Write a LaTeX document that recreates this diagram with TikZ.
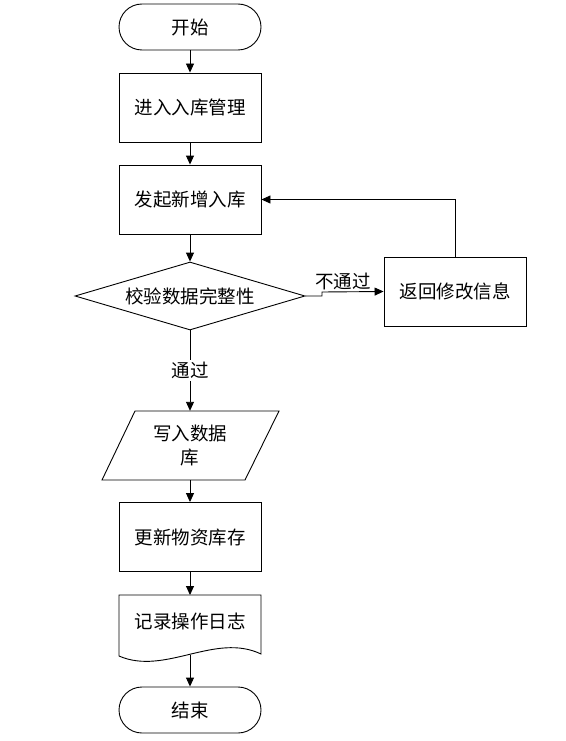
\documentclass[tikz,border=0pt]{standalone}
\usepackage{fontspec}
\setmainfont{Noto Sans CJK SC}
\usetikzlibrary{shapes.geometric,arrows.meta}
\begin{document}
\begin{tikzpicture}[x=1pt,y=-1pt,
  every node/.style={font=\fontsize{18.5}{24}\selectfont},
  line/.style={line width=0.9pt},
  arr/.style={line, -{Triangle[length=9pt,width=8pt]}},
  term/.style={draw,line width=0.9pt,rectangle,rounded corners=23pt,minimum width=142pt,minimum height=46pt,inner sep=0pt},
  proc/.style={draw,line width=0.9pt,rectangle,minimum width=142pt,minimum height=69pt,inner sep=0pt},
  dec/.style={draw,line width=0.9pt,diamond,aspect=3.38,minimum width=230pt,minimum height=68pt,inner sep=0pt},
  txt/.style={inner sep=0pt,minimum width=144pt,minimum height=69pt,align=center}]
\useasboundingbox (0,0) rectangle (565,741);
\node[term] (start) at (190,27) {开始};
\node[proc] (p1) at (190,107.5) {进入入库管理};
\node[proc] (p2) at (190,199.5) {发起新增入库};
\node[dec] (d) at (190,296) {校验数据完整性};
\node[proc] (r) at (455,291.5) {返回修改信息};
% parallelogram
\draw[line] (135,411) -- (279,411) -- (245,480) -- (102,480) -- cycle;
\node[txt,text width=80pt] (w) at (190,445.5) {写入数据\\库};
\node[proc] (p3) at (190,537) {更新物资库存};
% document
\draw[line] (119,595) -- (261,595) -- (261,654) .. controls (215,632) and (165,676) .. (119,656) -- cycle;
\node[inner sep=0pt] (log) at (190,621) {记录操作日志};
\coordinate (logb) at (190,655);
\coordinate (logt) at (190,595);
\node[term] (end) at (190,710) {结束};
% connectors
\draw[arr] (start) -- (p1);
\draw[arr] (p1) -- (p2);
\draw[arr] (p2) -- (d);
\draw[arr] (d.south) -- node[fill=white,inner sep=2pt,pos=0.5] {通过} (w.north);
\draw[arr] (w.south) -- (p3);
\draw[arr] (p3.south) -- (logt);
\draw[arr] (logb) -- (end);
\coordinate (k1) at (322,296);
\coordinate (k2) at (322,292);
\draw[arr] (d.east) -- (k1) -- (k2) -- (r.west);
\node[inner sep=0pt] (lbl) at (343,281) {不通过};
\draw[arr] (r.north) |- (p2.east);
\end{tikzpicture}
\end{document}
